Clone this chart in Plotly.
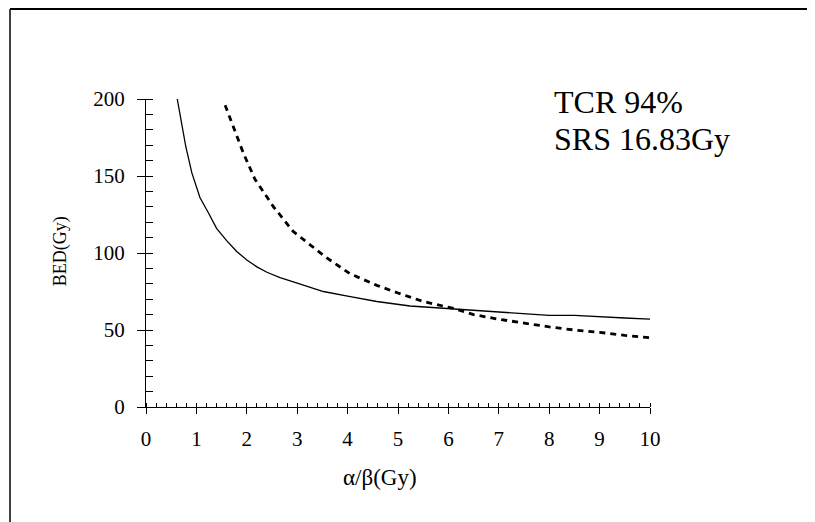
import plotly.graph_objects as go

# values
solid_ab = [0.62, 0.67, 0.79, 0.91, 1.07, 1.24, 1.4, 1.6, 1.8, 2.0, 2.2, 2.4, 2.66,
            3.0, 3.52, 4.0, 4.58, 5.24, 6.0, 6.63, 7.0, 7.5, 8.0, 8.5, 9.0, 9.5, 10.0]
solid_bed = [200, 191, 169, 152, 136, 126, 116, 108, 101, 95.5, 91, 87.5, 84,
             80.5, 75, 72, 68.5, 65.6, 64, 62.5, 62, 61, 59.5, 59.5, 58.5, 57.8, 57]

dashed_ab = [1.57, 1.93, 2.16, 2.53, 2.92, 3.58, 4.05, 4.58, 5.0, 5.5, 6.1, 6.5,
             7.0, 7.5, 8.0, 8.5, 9.0, 9.5, 10.0]
dashed_bed = [196, 165, 148, 130, 114, 97, 86.5, 79, 74, 68.5, 64, 60,
              57, 54.5, 52, 50, 48.5, 46.5, 45]

x_range = [0, 10]
y_range = [0, 200]
note_lines = ["TCR 94%", "SRS 16.83Gy"]
x_title = "α/β(Gy)"
y_title = "BED(Gy)"

FONT = "Liberation Serif, Times New Roman, serif"

fig = go.Figure()
fig.add_trace(go.Scatter(x=solid_ab, y=solid_bed, mode="lines",
                         line=dict(color="black", width=1.3)))
fig.add_trace(go.Scatter(x=dashed_ab, y=dashed_bed, mode="lines",
                         line=dict(color="black", width=2.8, dash="6px,5px")))
# invisible trace so the overlay axes are drawn
fig.add_trace(go.Scatter(x=[None], y=[None], xaxis="x2", yaxis="y2",
                         showlegend=False, hoverinfo="skip"))

fig.update_layout(
    width=815, height=522,
    margin=dict(l=138, r=173, t=91, b=123),
    paper_bgcolor="white", plot_bgcolor="white",
    showlegend=False,
    font=dict(family=FONT, color="black"),
    xaxis=dict(range=x_range, dtick=1, showgrid=False, zeroline=False,
               showline=True, linecolor="black", linewidth=1.2,
               ticks="outside", ticklen=6, tickwidth=1.2, tickcolor="black",
               ticklabelstandoff=7,
               tickfont=dict(family=FONT, size=21),
               minor=dict(ticks="inside", ticklen=4, dtick=0.2,
                          tickcolor="black", tickwidth=1, showgrid=False)),
    yaxis=dict(range=y_range, dtick=50, showgrid=False, zeroline=False,
               showline=True, linecolor="black", linewidth=1.2,
               ticks="outside", ticklen=8, tickwidth=1.2, tickcolor="black",
               ticklabelstandoff=8,
               tickfont=dict(family=FONT, size=21),
               minor=dict(ticks="inside", ticklen=7, dtick=10,
                          tickcolor="black", tickwidth=1, showgrid=False)),
    xaxis2=dict(range=x_range, dtick=1, overlaying="x", anchor="y",
                showgrid=False, zeroline=False, showline=False,
                ticks="inside", ticklen=4, tickwidth=1.2, tickcolor="black",
                showticklabels=False),
    yaxis2=dict(range=y_range, dtick=50, overlaying="y", anchor="x",
                showgrid=False, zeroline=False, showline=False,
                ticks="inside", ticklen=7, tickwidth=1.2, tickcolor="black",
                showticklabels=False),
)

# partial outer frame (top and left edges)
fig.add_shape(type="line", xref="paper", yref="paper",
              x0=-0.2698, x1=1.36, y0=1.292, y1=1.292,
              line=dict(color="black", width=2))
fig.add_shape(type="line", xref="paper", yref="paper",
              x0=-0.2698, x1=-0.2698, y0=1.292, y1=-0.40,
              line=dict(color="black", width=1.5))

fig.add_annotation(text=note_lines[0], xref="paper", yref="paper",
                   x=0.805, y=0.99, xanchor="left", yanchor="middle",
                   showarrow=False, font=dict(family=FONT, size=32))
fig.add_annotation(text=note_lines[1], xref="paper", yref="paper",
                   x=0.805, y=0.87, xanchor="left", yanchor="middle",
                   showarrow=False, font=dict(family=FONT, size=32))
fig.add_annotation(text=x_title, xref="paper", yref="paper",
                   x=0.464, y=-0.228, xanchor="center", yanchor="middle",
                   showarrow=False, font=dict(family=FONT, size=23))
fig.add_annotation(text=y_title, xref="paper", yref="paper",
                   x=-0.1706, y=0.506, xanchor="center", yanchor="middle",
                   textangle=-90, showarrow=False,
                   font=dict(family=FONT, size=18))

fig.write_html("out.html")
